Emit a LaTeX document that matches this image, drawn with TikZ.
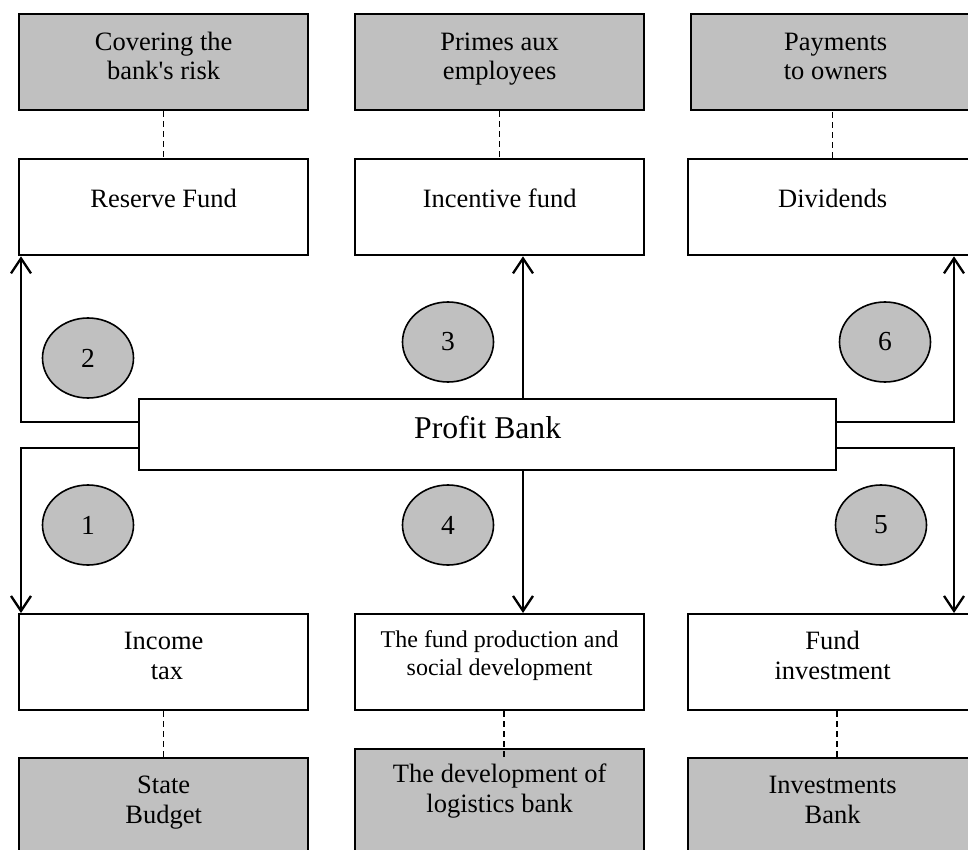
\documentclass[tikz,border=0pt]{standalone}
\usepackage{fontspec}
\setmainfont{Liberation Serif}
\usetikzlibrary{arrows.meta,shapes.geometric}
\definecolor{boxgray}{HTML}{C0C0C0}
\begin{document}
\begin{tikzpicture}[x=1pt,y=-1pt,
  boxw/.style={draw, line width=2.3pt, inner sep=0pt, minimum width=289pt, minimum height=96pt, anchor=north west},
  boxg/.style={boxw, fill=boxgray},
  lbl/.style={font=\fontsize{26.5}{29.5}\selectfont, align=center, inner sep=0pt},
  smalllbl/.style={font=\fontsize{24}{27.7}\selectfont, align=center, inner sep=0pt},
  biglbl/.style={font=\fontsize{31.7}{36}\selectfont, align=center, inner sep=0pt},
  num/.style={draw, ellipse, fill=boxgray, line width=1.6pt, minimum width=91pt, minimum height=80pt, inner sep=0pt, font=\fontsize{27.5}{30}\selectfont},
  dsh/.style={dash pattern=on 6pt off 4pt, line width=1.6pt},
  flow/.style={line width=2.3pt, -{Straight Barb[length=15pt,width=20pt,line width=2.3pt]}}
]
\useasboundingbox (0,0) rectangle (968,850);
\clip (0,0) rectangle (968,850);

% boxes
\node[boxg] (g1) at (18,13) {};
\node[boxg] (g2) at (354,13) {};
\node[boxg] (g3) at (690,13) {};
\node[boxw] (w1) at (18,158) {};
\node[boxw] (w2) at (354,158) {};
\node[boxw] (w3) at (687,158) {};
\node[draw, line width=2.3pt, inner sep=0pt, minimum width=697pt, minimum height=71pt, anchor=north west] (pb) at (138,398) {};
\node[boxw] (w4) at (18,613) {};
\node[boxw] (w5) at (354,613) {};
\node[boxw] (w6) at (687,613) {};
\node[boxg] (g4) at (18,757) {};
\node[boxg, minimum height=110pt] (g5) at (354,748) {};
\node[boxg] (g6) at (687,757) {};

% texts
\node[lbl] (tg1) at (g1.center |- 0,58.9) {\strut Covering the\\bank\textquotesingle s risk\strut};
\node[lbl] (tg2) at (g2.center |- 0,58.9) {\strut Primes aux\\employees\strut};
\node[lbl] (tg3) at (g3.center |- 0,58.9) {\strut Payments\\to owners\strut};
\node[lbl] (tw1) at (w1.center |- 0,201.8) {\strut Reserve Fund};
\node[lbl] (tw2) at (w2.center |- 0,201.8) {\strut Incentive fund};
\node[lbl] (tw3) at (w3.center |- 0,201.8) {\strut Dividends};
\node[biglbl] (tpb) at (pb.center |- 0,431) {\strut Profit Bank};
\node[lbl] (tw4) at (w4.center |- 0,658.4) {\strut Income\\\hspace*{0.25em}tax\strut};
\node[smalllbl] (tw5) at (w5.center |- 0,655.7) {\strut The fund production and\\social development\strut};
\node[lbl] (tw6) at (w6.center |- 0,658.4) {\strut Fund\\investment\strut};
\node[lbl] (tg4) at (g4.center |- 0,802.4) {\strut State\\Budget\strut};
\node[lbl] (tg5) at (g5.center |- 0,791.6) {\strut The development of\\logistics bank\strut};
\node[lbl] (tg6) at (g6.center |- 0,802.4) {\strut Investments\\Bank\strut};

% numbered ellipses
\node[num] (e1) at (88,525) {1};
\node[num] (e2) at (88,358) {2};
\node[num] (e3) at (448,342) {3};
\node[num] (e4) at (448,525) {4};
\node[num] (e5) at (881,525) {5};
\node[num] (e6) at (885,342) {6};

% dashed links
\draw[dsh] (g1.south) -- (w1.north);
\draw[dsh] (g2.south) -- (w2.north);
\draw[dsh] (w3.north) -- (w3.north |- g3.south);
\draw[dsh] (w4.south) -- (g4.north);
\draw[dsh] ([xshift=4.5pt]w5.south) -- ([xshift=4.5pt,yshift=-10pt]g5.north);
\draw[dsh] ([xshift=4.5pt]w6.south) -- ([xshift=4.5pt]g6.north);

% flow arrows
\coordinate (yhi) at (0,422);
\coordinate (ylo) at (0,448);
\coordinate (xl) at (21,0);
\coordinate (xm) at (523,0);
\coordinate (xr) at (954,0);
\draw[flow] (pb.west |- yhi) -| (xl |- w1.south);
\draw[flow] (pb.west |- ylo) -| (xl |- w4.north);
\draw[flow] (pb.east |- yhi) -| (xr |- w3.south);
\draw[flow] (pb.east |- ylo) -| (xr |- w6.north);
\draw[flow] (xm |- pb.north) -- (xm |- w2.south);
\draw[flow] (xm |- pb.south) -- (xm |- w5.north);
\end{tikzpicture}
\end{document}
